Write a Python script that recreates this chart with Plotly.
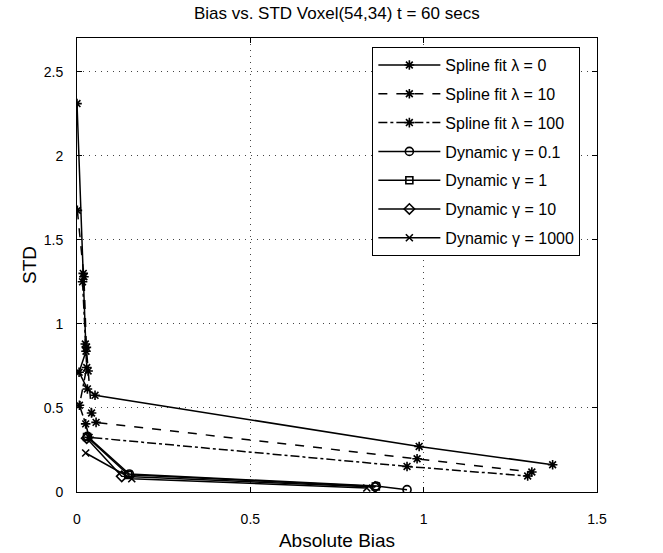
import plotly.graph_objects as go

# ---- data ----
l0_x = [0.000, 0.018, 0.026, 0.006, 0.030, 0.052, 0.987, 1.372]
l0_y = [2.310, 1.300, 0.837, 0.712, 0.613, 0.575, 0.271, 0.162]

l10_x = [0.001, 0.020, 0.027, 0.032, 0.042, 0.055, 0.981, 1.312]
l10_y = [1.675, 1.280, 0.860, 0.720, 0.470, 0.414, 0.198, 0.119]

l100_x = [0.016, 0.024, 0.028, 0.007, 0.025, 0.035, 0.952, 1.300]
l100_y = [1.250, 0.880, 0.740, 0.516, 0.405, 0.325, 0.152, 0.095]

g01_x = [0.030, 0.151, 0.863, 0.952]
g01_y = [0.331, 0.107, 0.036, 0.014]

g1_x = [0.029, 0.148, 0.862]
g1_y = [0.327, 0.102, 0.033]

g10_x = [0.028, 0.129, 0.860]
g10_y = [0.320, 0.093, 0.030]

g1000_x = [0.025, 0.158, 0.836]
g1000_y = [0.232, 0.079, 0.024]

names = ["Spline fit \u03bb = 0", "Spline fit \u03bb = 10", "Spline fit \u03bb = 100",
         "Dynamic \u03b3 = 0.1", "Dynamic \u03b3 = 1", "Dynamic \u03b3 = 10", "Dynamic \u03b3 = 1000"]

x_ticks = [0, 0.5, 1, 1.5]
y_ticks = [0, 0.5, 1, 1.5, 2, 2.5]

series = [
    (l0_x, l0_y, "solid", "asterisk-open", 8),
    (l10_x, l10_y, "dash", "asterisk-open", 8),
    (l100_x, l100_y, "dashdot", "asterisk-open", 8),
    (g01_x, g01_y, "solid", "circle-open", 8),
    (g1_x, g1_y, "solid", "square-open", 7),
    (g10_x, g10_y, "solid", "diamond-open", 8),
    (g1000_x, g1000_y, "solid", "x-thin-open", 7),
]

fig = go.Figure()
for i, (xs, ys, dash, sym, sz) in enumerate(series):
    fig.add_trace(go.Scatter(
        x=xs, y=ys, mode="lines+markers", name=names[i], legendgroup=str(i),
        line=dict(color="black", width=1.5, dash=dash),
        marker=dict(symbol=sym, size=sz, color="black", line=dict(color="black", width=1.6)),
    ))

font = "Liberation Sans, Arial, sans-serif"
fig.update_layout(
    width=663, height=553,
    margin=dict(l=77, r=66, t=38, b=61, autoexpand=False),
    paper_bgcolor="white", plot_bgcolor="white",
    font=dict(family=font, color="black", size=14),
    title=dict(text="Bias vs. STD Voxel(54,34) t = 60 secs", x=0.508, xanchor="center",
               y=0.976, yanchor="middle", font=dict(size=17)),
    showlegend=True,
    legend=dict(x=0.568, y=0.98, xanchor="left", yanchor="top",
                bordercolor="black", borderwidth=1, bgcolor="white",
                font=dict(size=16), itemwidth=62, tracegroupgap=5),
)
fig.update_xaxes(
    range=[0, 1.5], tickvals=x_ticks, ticks="inside", ticklen=5, tickcolor="black",
    showline=True, linecolor="black", linewidth=1, mirror="ticks", automargin=False,
    showgrid=True, gridcolor="#444444", griddash="1px,5px", gridwidth=1, zeroline=False,
    title=dict(text="Absolute Bias", font=dict(size=19), standoff=7),
    ticklabelstandoff=14,
)
fig.update_yaxes(
    range=[0, 2.7], tickvals=y_ticks, ticks="inside", ticklen=5, tickcolor="black",
    showline=True, linecolor="black", linewidth=1, mirror="ticks", automargin=False,
    showgrid=True, gridcolor="#444444", griddash="1px,5px", gridwidth=1, zeroline=False,
    title=dict(text="STD", font=dict(size=19), standoff=2),
    ticklabelstandoff=10,
)

fig.write_html("out.html")
